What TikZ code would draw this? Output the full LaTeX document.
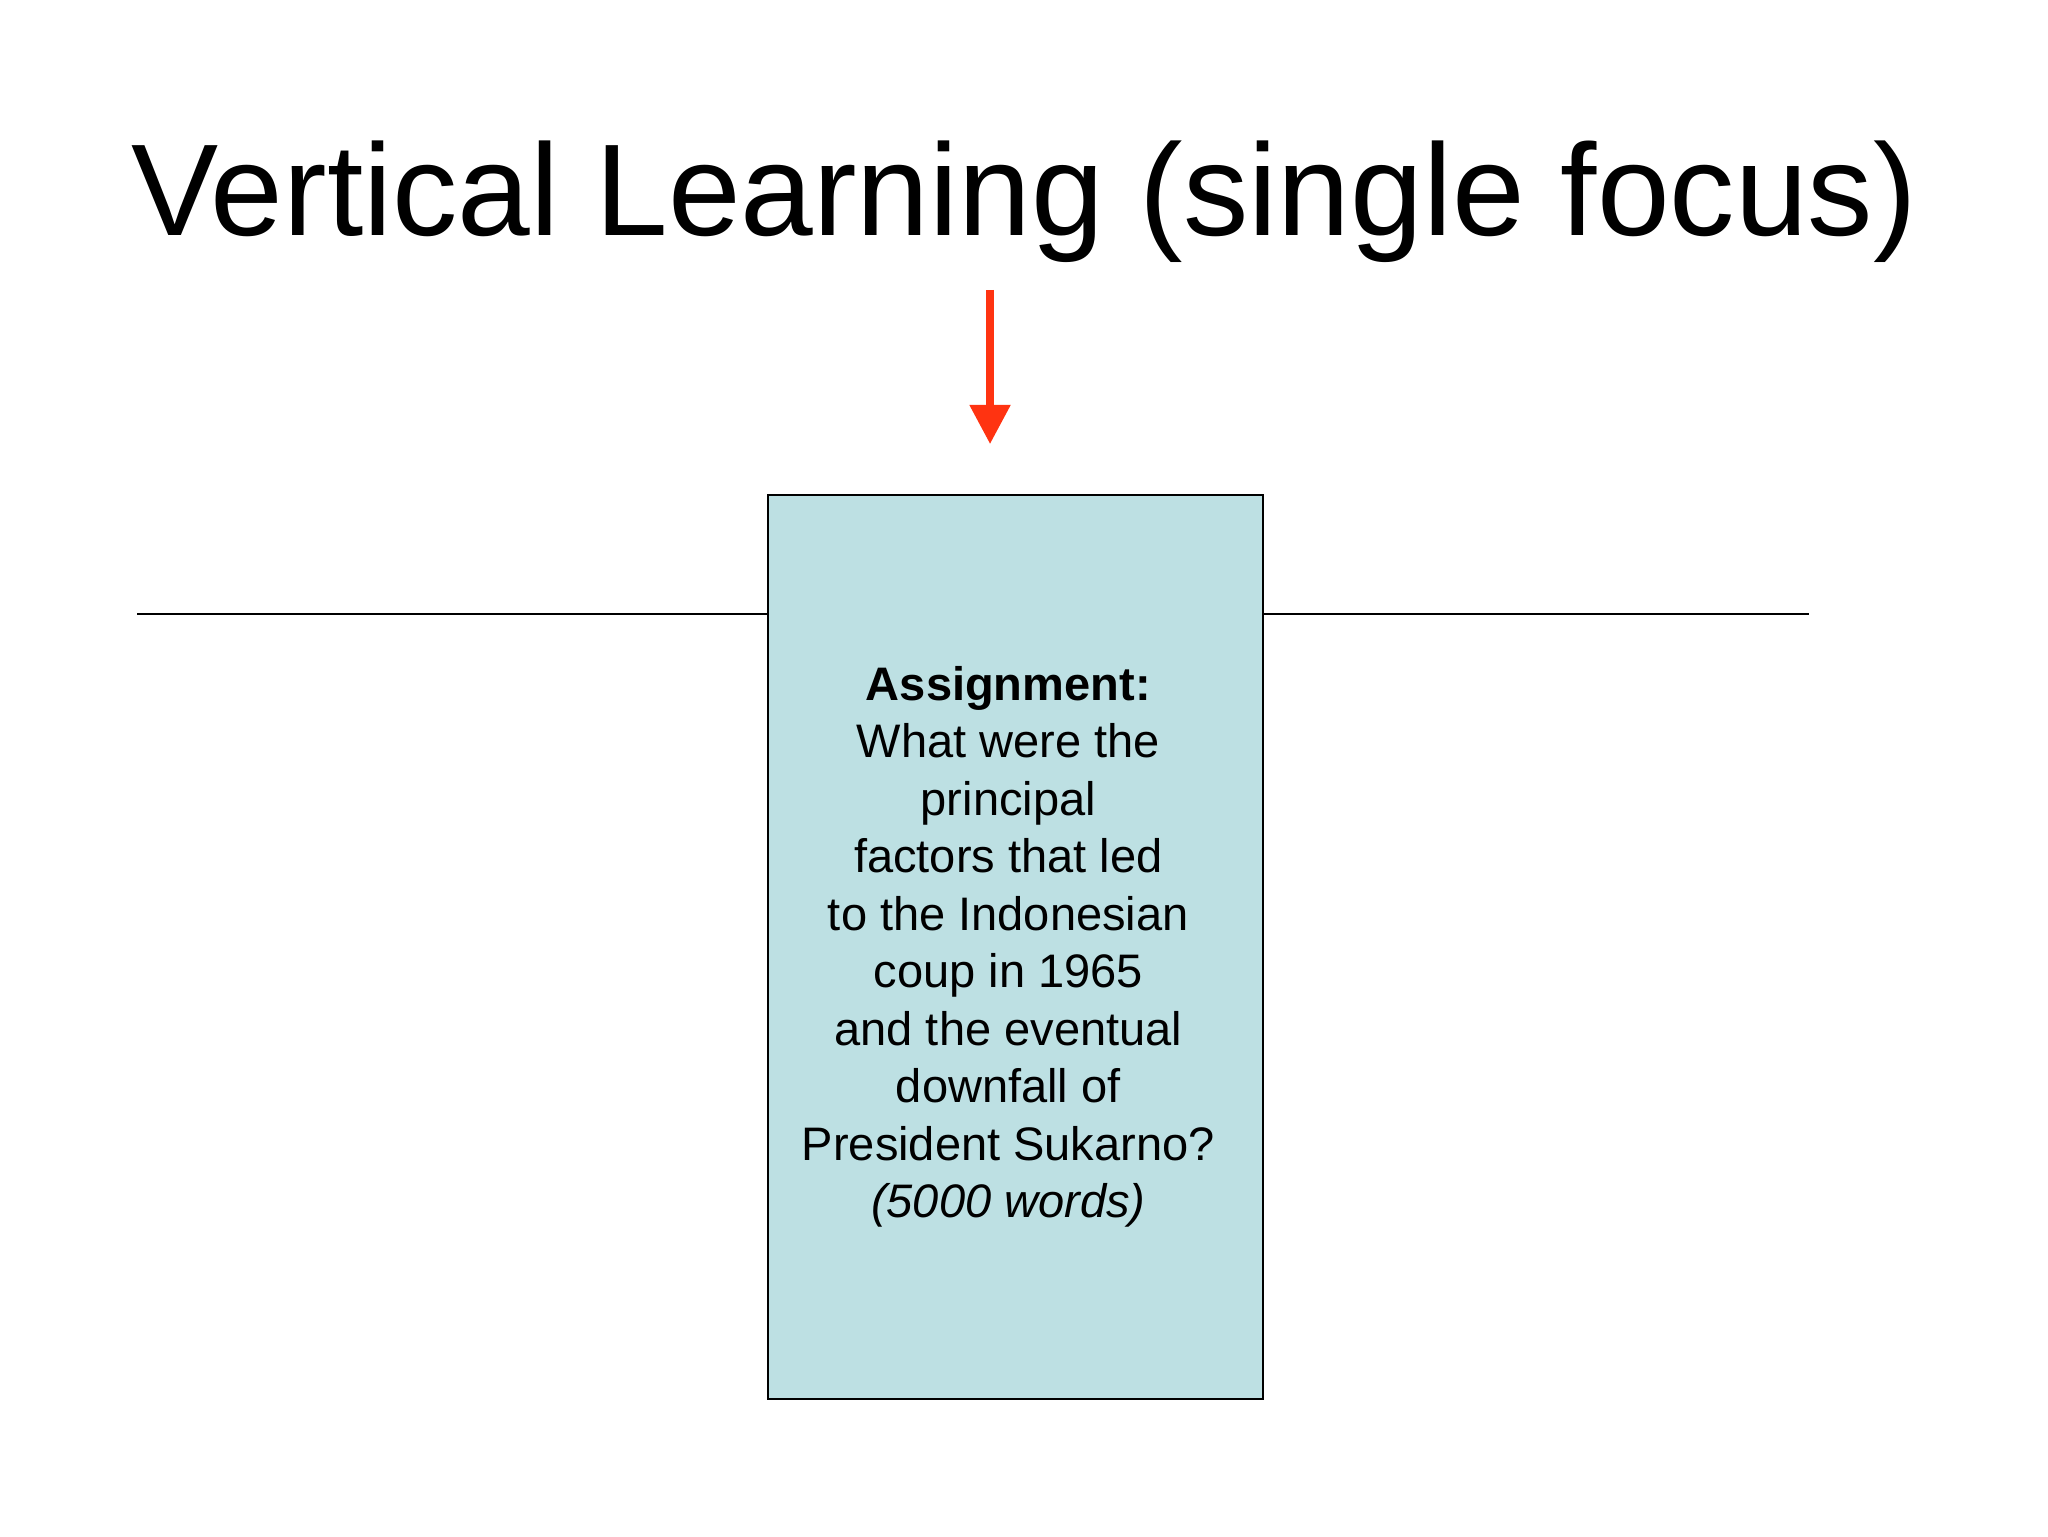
\documentclass[tikz,border=0pt]{standalone}
\usepackage{fontspec}
\setmainfont{Liberation Sans}
\usetikzlibrary{arrows.meta}
\definecolor{boxfill}{HTML}{BDE0E3}
\definecolor{arrowred}{HTML}{FF3311}
\tikzset{every picture/.style={x=1pt,y=-1pt}}
\begin{document}
\begin{tikzpicture}
\useasboundingbox (0,0) rectangle (1568,1176);
\node[anchor=base,font=\fontsize{100}{110}\selectfont] (title) at (784,180) {Vertical Learning (single focus)};
\coordinate (la) at (105,470);
\coordinate (lb) at (588,470);
\coordinate (ra) at (967,470);
\coordinate (rb) at (1385,470);
\draw[line width=1.3pt] (la) -- (lb);
\draw[line width=1.3pt] (ra) -- (rb);
\node[draw,line width=1pt,fill=boxfill,minimum width=379pt,minimum height=692pt,inner sep=0pt] (box) at (777.5,725) {};
\node[align=center,font=\fontsize{36}{44}\selectfont] (txt) at (772,725) {\textbf{Assignment:}\\What were the\\principal\\factors that led\\to the Indonesian\\coup in 1965\\and the eventual\\downfall of\\President Sukarno?\\\textit{(5000 words)}};
\coordinate (at) at (758,222);
\coordinate (ab) at (758,340);
\draw[arrowred,line width=6pt,-{Triangle[length=30pt,width=30pt]}] (at) -- (ab);
\end{tikzpicture}
\end{document}
